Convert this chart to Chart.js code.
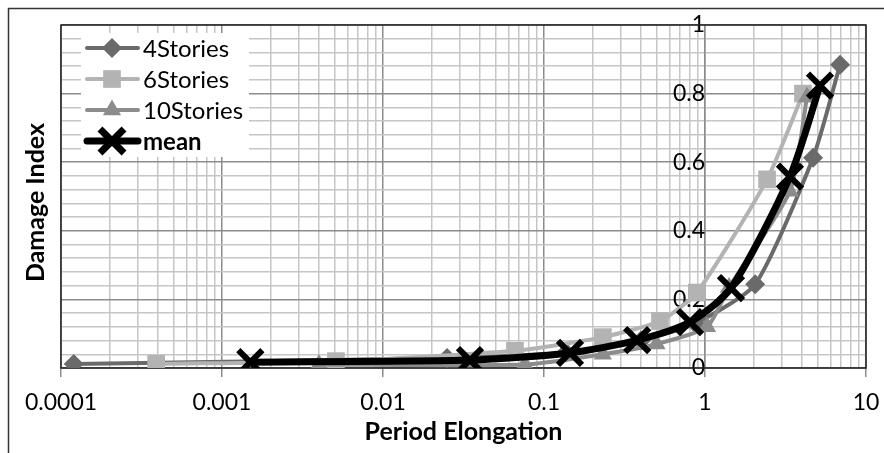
<!DOCTYPE html>
<html>
<head>
<meta charset="utf-8">
<script src="https://cdn.jsdelivr.net/npm/chart.js@4/dist/chart.umd.min.js"></script>
<style>
  body { margin: 0; background: #fff; }
  #wrap { width: 884px; height: 453px; }
</style>
</head>
<body>
<div id="wrap"><canvas id="chart" width="884" height="453"></canvas></div>
<script>
// period elongation (x) vs damage index (y) for each building height
const fourX = [0.00012, 0.025, 0.137, 0.40, 0.87, 2.05, 4.69, 6.9];
const fourY = [0.012, 0.029, 0.045, 0.08, 0.13, 0.244, 0.613, 0.884];
const sixX = [0.00039, 0.0051, 0.066, 0.232, 0.525, 0.89, 2.43, 4.06];
const sixY = [0.012, 0.02, 0.05, 0.09, 0.137, 0.22, 0.55, 0.80];
const tenX = [0.0040, 0.076, 0.232, 0.50, 1.03, 1.41, 3.37, 4.3];
const tenY = [0.01, 0.01, 0.04, 0.07, 0.12, 0.235, 0.515, 0.79];
const meanX = [0.0015, 0.0347, 0.145, 0.379, 0.807, 1.45, 3.37, 5.18];
const meanY = [0.017, 0.023, 0.044, 0.081, 0.134, 0.233, 0.558, 0.823];

const seriesNames = ['4Stories', '6Stories', '10Stories', 'mean'];
const xTicks = [0.0001, 0.001, 0.01, 0.1, 1, 10];
const yTicks = [0, 0.2, 0.4, 0.6, 0.8, 1];
const yMinorStep = 0.04;

const FONT = 'Lato, "Open Sans", sans-serif';
const MAJOR_GRID = '#8c8c8c';
const MINOR_GRID = '#c6c6c6';

const pts = (xs, ys) => xs.map((x, i) => ({ x: x, y: ys[i] }));

// white page with the outer frame, plus the plot-area border
const frame = {
    id: 'frame',
    beforeDraw(chart) {
        const c = chart.ctx;
        c.save();
        c.fillStyle = '#fff';
        c.fillRect(0, 0, chart.width, chart.height);
        c.strokeStyle = '#333';
        c.lineWidth = 1.5;
        c.strokeRect(8.5, 8.5, 1000, 1000);
        c.restore();
    },
    beforeDatasetsDraw(chart) {
        const a = chart.chartArea, c = chart.ctx;
        c.save();
        c.strokeStyle = '#222';
        c.lineWidth = 1.5;
        c.strokeRect(a.left, a.top, a.right - a.left, a.bottom - a.top);
        // y title sits at the left edge, the y axis itself crosses at x = 1
        c.translate(36, (a.top + a.bottom) / 2 + 6);
        c.rotate(-Math.PI / 2);
        c.fillStyle = '#000';
        c.font = 'bold 25px ' + FONT;
        c.textAlign = 'center';
        c.textBaseline = 'middle';
        c.fillText('Damage Index', 0, 0);
        c.restore();
    }
};

// legend box drawn inside the plot, top-left
const boxLegend = {
    id: 'boxLegend',
    afterDatasetsDraw(chart) {
        const c = chart.ctx;
        c.save();
        c.fillStyle = '#fff';
        c.fillRect(81, 33, 168, 124);
        chart.data.datasets.forEach((ds, i) => {
            const y = 48 + i * 31;
            c.strokeStyle = ds.borderColor;
            c.lineWidth = ds.borderWidth;
            c.lineCap = 'round';
            c.beginPath();
            c.moveTo(87, y);
            c.lineTo(138, y);
            c.stroke();
            c.lineCap = 'butt';
            c.fillStyle = ds.pointBackgroundColor;
            c.strokeStyle = ds.pointBorderColor;
            Chart.helpers.drawPoint(c, {
                pointStyle: ds.pointStyle,
                radius: ds.pointRadius,
                rotation: 0,
                borderWidth: ds.pointBorderWidth
            }, 112, y);
            c.fillStyle = '#000';
            c.font = (i === 3 ? 'bold ' : '') + '24px ' + FONT;
            c.textAlign = 'left';
            c.textBaseline = 'middle';
            c.fillText(ds.label, 143, y + 1);
        });
        c.restore();
    }
};

const greyLine = (label, xs, ys, color, style, r) => ({
    label: label,
    data: pts(xs, ys),
    borderColor: color,
    borderWidth: 4,
    pointStyle: style,
    pointRadius: r,
    pointBackgroundColor: color,
    pointBorderColor: color,
    pointBorderWidth: 0,
    tension: 0.2
});

const datasets = [
    greyLine(seriesNames[0], fourX, fourY, '#6a6a6a', 'rectRot', 10),
    greyLine(seriesNames[1], sixX, sixY, '#b3b3b3', 'rect', 12.5),
    greyLine(seriesNames[2], tenX, tenY, '#8c8c8c', 'triangle', 10.5),
    {
        label: seriesNames[3],
        data: pts(meanX, meanY),
        borderColor: '#000',
        borderWidth: 7,
        pointStyle: 'crossRot',
        pointRadius: 17,
        pointBackgroundColor: '#000',
        pointBorderColor: '#000',
        pointBorderWidth: 6,
        tension: 0.25
    }
];
// later series drawn on top
datasets.forEach((d, i) => { d.order = datasets.length - i; });

new Chart(document.getElementById('chart'), {
    type: 'line',
    data: { datasets: datasets },
    plugins: [frame, boxLegend],
    options: {
        responsive: false,
        animation: false,
        devicePixelRatio: 1,
        layout: { autoPadding: false, padding: { left: 61, right: 18, top: 25, bottom: 0 } },
        plugins: { legend: { display: false }, tooltip: { enabled: false } },
        scales: {
            x: {
                type: 'logarithmic',
                position: 'bottom',
                min: xTicks[0],
                max: xTicks[xTicks.length - 1],
                afterBuildTicks(scale) {
                    const t = [];
                    xTicks.forEach((d, i) => {
                        t.push({ value: d, major: true });
                        if (i < xTicks.length - 1) {
                            for (let m = 2; m <= 9; m++) t.push({ value: d * m, major: false });
                        }
                    });
                    scale.ticks = t;
                },
                afterFit(scale) {
                    scale.height = 85;
                    scale.paddingLeft = 0;
                    scale.paddingRight = 0;
                },
                grid: {
                    color: ctx => ctx.tick && ctx.tick.major ? MAJOR_GRID : MINOR_GRID,
                    lineWidth: 1.5,
                    tickLength: 9,
                    tickColor: ctx => ctx.tick && ctx.tick.major ? MAJOR_GRID : 'rgba(0,0,0,0)'
                },
                border: { display: true, color: MAJOR_GRID, width: 1.5 },
                ticks: {
                    autoSkip: false,
                    maxRotation: 0,
                    padding: 12,
                    color: '#000',
                    font: { family: FONT, size: 23 },
                    callback: (v, i, ticks) => ticks[i].major ? String(v) : ''
                },
                title: {
                    display: true,
                    text: 'Period Elongation',
                    color: '#000',
                    font: { family: FONT, size: 25, weight: 'bold', lineHeight: 1.2 },
                    padding: { top: 0, bottom: 6 }
                }
            },
            y: {
                type: 'linear',
                position: { x: 1 },
                min: yTicks[0],
                max: yTicks[yTicks.length - 1],
                afterBuildTicks(scale) {
                    const t = [];
                    const n = Math.round((yTicks[yTicks.length - 1] - yTicks[0]) / yMinorStep);
                    for (let i = 0; i <= n; i++) {
                        const v = +(yTicks[0] + i * yMinorStep).toFixed(2);
                        t.push({ value: v, major: yTicks.includes(v) });
                    }
                    scale.ticks = t;
                },
                afterFit(scale) {
                    scale.paddingTop = 0;
                    scale.paddingBottom = 0;
                },
                grid: {
                    color: ctx => ctx.tick && ctx.tick.major ? MAJOR_GRID : MINOR_GRID,
                    lineWidth: 1.5,
                    drawTicks: false
                },
                border: { display: true, color: MAJOR_GRID, width: 1.5 },
                ticks: {
                    autoSkip: false,
                    padding: 25,
                    color: '#000',
                    font: { family: FONT, size: 23 },
                    callback: (v, i, ticks) => ticks[i].major ? String(v) : ''
                }
            }
        }
    }
});
</script>
</body>
</html>
